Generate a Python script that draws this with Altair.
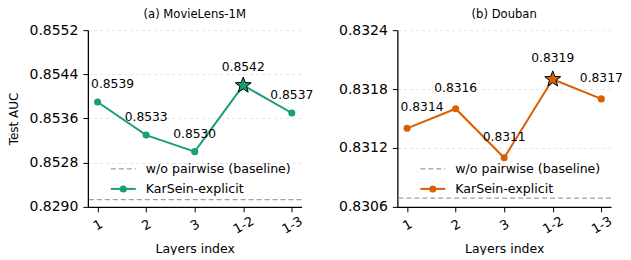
import math
import altair as alt
import pandas as pd

FONT = "DejaVu Sans"

layers = ["1", "2", "3", "1-2", "1-3"]
best_layer = "1-2"
ml_auc = [0.8539, 0.8533, 0.8530, 0.8542, 0.8537]
db_auc = [0.8314, 0.8316, 0.8311, 0.8319, 0.8317]
# baseline positions as drawn (left panel uses a broken axis)
ml_baseline = [0.85213]
db_baseline = [0.83069]
ml_ticks = [0.8520, 0.8528, 0.8536, 0.8544, 0.8552]
ml_bottom_label = "0.8290"   # label shown at the broken-axis bottom tick
db_ticks = [0.8306, 0.8312, 0.8318, 0.8324]
db_bottom_label = "0.8306"
legend_labels = ["w/o pairwise (baseline)", "KarSein-explicit"]
titles = ["(a) MovieLens-1M", "(b) Douban"]
colors = ["#1b9e77", "#d95f02"]

W, H = 214, 177

# five-pointed star marker as a unit SVG path
_pts = []
for k in range(10):
    r = 1.0 if k % 2 == 0 else 0.42
    a = math.radians(-90 + 36 * k)
    _pts.append(f"{r * math.cos(a):.3f},{r * math.sin(a):.3f}")
STAR = "M" + "L".join(_pts) + "Z"


def panel(title, values, baseline, color, ticks, bottom_label, dy, ytitle):
    df = pd.DataFrame({"idx": layers, "auc": values,
                       "lbl": [f"{v:.4f}" for v in values]})
    base = alt.Chart(df)
    x = alt.X(
        "idx:N",
        scale=alt.Scale(type="point", domain=layers, padding=0.2),
        axis=alt.Axis(
            title="Layers index",
            labelAngle=330,
            labelAlign="center",
            labelBaseline="middle",
            labelPadding=13,
            labelFontSize=13,
            titleFontSize=12.5,
            titlePadding=6,
            grid=False,
        ),
    )
    yaxis_kw = dict(
        values=ticks,
        labelExpr=f"datum.value < {ticks[0] + 0.00001} ? '{bottom_label}' : format(datum.value, '.4f')",
        labelFontSize=14,
        labelPadding=5,
        grid=True,
        gridDash=[3, 3],
        gridColor="#dddddd",
        gridWidth=0.8,
    )
    if ytitle:
        yaxis_kw.update(title=ytitle, titleFontSize=12, titlePadding=8)
    else:
        yaxis_kw.update(title="")
    y = alt.Y(
        "auc:Q",
        scale=alt.Scale(domain=[ticks[0], ticks[-1]], zero=False, nice=False),
        axis=alt.Axis(**yaxis_kw),
    )
    line = base.mark_line(color=color, strokeWidth=2).encode(x=x, y=y)
    dots = (
        base.transform_filter(alt.datum.idx != best_layer)
        .mark_point(filled=True, size=50, color=color, opacity=1)
        .encode(x=x, y=y)
    )
    star = (
        base.transform_filter(alt.datum.idx == best_layer)
        .mark_point(shape=STAR, filled=True, size=280, color=color,
                    stroke="black", strokeWidth=1, opacity=1)
        .encode(x=x, y=y)
    )
    txt_first = (
        base.transform_filter(alt.datum.idx == layers[0])
        .mark_text(font=FONT, fontSize=12.3, dy=dy, dx=15, color="black")
        .encode(x=x, y=y, text="lbl:N")
    )
    txt_rest = (
        base.transform_filter(alt.datum.idx != layers[0])
        .mark_text(font=FONT, fontSize=12.3, dy=dy, color="black")
        .encode(x=x, y=y, text="lbl:N")
    )
    bl = (
        alt.Chart(pd.DataFrame({"b": baseline}))
        .mark_rule(color="#a0a0a0", strokeDash=[5, 3], strokeWidth=1.3)
        .encode(y=alt.Y("b:Q"))
    )
    leg_base = alt.Chart(pd.DataFrame({"label": legend_labels}))
    leg_dash = leg_base.transform_filter(alt.datum.label == legend_labels[0]).mark_rule(
        color="#a0a0a0", strokeDash=[5, 3], strokeWidth=1.3
    ).encode(x=alt.value(23), x2=alt.value(48), y=alt.value(139))
    leg_line = leg_base.transform_filter(alt.datum.label == legend_labels[1]).mark_rule(
        color=color, strokeWidth=2
    ).encode(x=alt.value(23), x2=alt.value(48), y=alt.value(159))
    leg_dot = leg_base.transform_filter(alt.datum.label == legend_labels[1]).mark_point(
        filled=True, size=50, color=color, opacity=1
    ).encode(x=alt.value(35.5), y=alt.value(159))
    leg_t1 = leg_base.transform_filter(alt.datum.label == legend_labels[0]).mark_text(
        font=FONT, fontSize=12.6, align="left", baseline="middle", color="black"
    ).encode(x=alt.value(58), y=alt.value(139), text="label:N")
    leg_t2 = leg_base.transform_filter(alt.datum.label == legend_labels[1]).mark_text(
        font=FONT, fontSize=12.6, align="left", baseline="middle", color="black"
    ).encode(x=alt.value(58), y=alt.value(159), text="label:N")

    return alt.layer(
        bl, line, dots, star, txt_first, txt_rest,
        leg_dash, leg_line, leg_dot, leg_t1, leg_t2
    ).properties(
        width=W, height=H,
        title=alt.TitleParams(title, fontSize=11.6, font=FONT, fontWeight="normal", offset=3),
    )


left = panel(titles[0], ml_auc, ml_baseline, colors[0], ml_ticks, ml_bottom_label, -18, "Test AUC")
right = panel(titles[1], db_auc, db_baseline, colors[1], db_ticks, db_bottom_label, -21, None)

chart = (
    alt.hconcat(left, right, spacing=25)
    .resolve_scale(y="independent", x="independent")
    .properties(padding={"left": 0, "top": 0, "right": 0, "bottom": 0})
    .configure_view(strokeWidth=0)
    .configure_axis(
        labelFont=FONT,
        titleFont=FONT,
        labelColor="black",
        titleColor="black",
        titleFontWeight="normal",
        domainColor="black",
        domainWidth=1.3,
        tickColor="black",
        tickSize=5,
        tickWidth=1,
    )
)

chart.save("out.html", embed_options={"renderer": "svg", "actions": False})
